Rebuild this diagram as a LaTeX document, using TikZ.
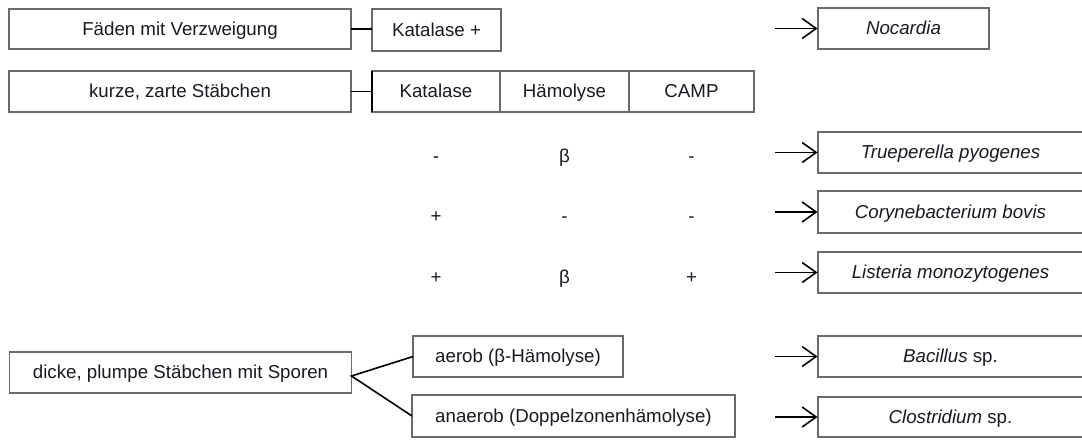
\documentclass[tikz,border=0pt]{standalone}
\usepackage{fontspec}
\setmainfont{Liberation Sans}
\usetikzlibrary{arrows.meta}
\definecolor{boxgray}{RGB}{105,105,105}
\definecolor{inkcol}{RGB}{25,25,35}
\begin{document}
\begin{tikzpicture}[x=1pt,y=-1pt,
  txt/.style={font=\fontsize{18.7}{22}\selectfont, text=inkcol, text height=12pt, text depth=0pt},
  box/.style={txt, draw=boxgray, line width=1.4pt, rectangle, inner sep=0pt, outer sep=0pt, fill=white},
  val/.style={txt, inner sep=0pt},
  link/.style={draw=black, line width=1.6pt},
  pointer/.style={link, -{Straight Barb[length=14pt,width=20pt,line join=miter]}, shorten >=0.5pt}]
\useasboundingbox (0,0) rectangle (1082,445);
\fill[white] (0,0) rectangle (1082,445);

% upper group: filaments
\node[box, minimum width=342pt, minimum height=40pt] (f) at (180,29) {Fäden mit Verzweigung};
\node[box, minimum width=129pt, minimum height=42pt] (kp) at (436.5,30) {Katalase +};
\node[box, minimum width=171pt, minimum height=41pt] (noc) at (903.5,28.5) {\itshape Nocardia};

% short rods with test table
\node[box, minimum width=342pt, minimum height=41pt] (k) at (180,91.5) {kurze, zarte Stäbchen};
\node[box, minimum width=128pt, minimum height=41pt] (tk) at (436,91.5) {Katalase};
\node[box, minimum width=129pt, minimum height=41pt] (th) at (564.5,91.5) {Hämolyse};
\node[box, minimum width=125pt, minimum height=41pt] (tc) at (691.5,91.5) {CAMP};

% test results
\node[val] (v11) at (436,156) {-};
\node[val] (v12) at (564.5,156) {β};
\node[val] (v13) at (691.5,156) {-};
\node[val] (v21) at (436,216) {+};
\node[val] (v22) at (564.5,216) {-};
\node[val] (v23) at (691.5,216) {-};
\node[val] (v31) at (436,277) {+};
\node[val] (v32) at (564.5,277) {β};
\node[val] (v33) at (691.5,277) {+};

% identified genera
\node[box, minimum width=265pt, minimum height=41pt] (tp) at (950.5,152.5) {\itshape Trueperella pyogenes};
\node[box, minimum width=265pt, minimum height=42pt] (cb) at (950.5,212) {\itshape Corynebacterium bovis};
\node[box, minimum width=265pt, minimum height=41pt] (lm) at (950.5,272.5) {\itshape Listeria monozytogenes};

% spore-forming rods
\node[box, minimum width=342pt, minimum height=41pt] (d) at (180.5,372.5) {dicke, plumpe Stäbchen mit Sporen};
\node[box, minimum width=210pt, minimum height=41pt] (ae) at (518,356.5) {aerob (β-Hämolyse)};
\node[box, minimum width=323pt, minimum height=42pt] (an) at (573.5,416) {anaerob (Doppelzonenhämolyse)};
\node[box, minimum width=265pt, minimum height=41pt] (ba) at (950.5,356.5) {\textit{Bacillus} sp.};
\node[box, minimum width=265pt, minimum height=40pt] (cl) at (950.5,417) {\textit{Clostridium} sp.};

% connectors
\draw[link] (f.east) -- (f.east -| kp.west);
\draw[link] (k.east) -- (tk.west);
\draw[link] (tk.north west) -- (tk.south west);
\coordinate (fork) at ([yshift=-3.5pt]d.east);
\draw[link] (ae.west) -- (fork) -- (an.west);

% arrows to results
\foreach \n in {noc,tp,cb,lm,ba,cl}
  \draw[pointer] ([xshift=-43pt]\n.west) -- (\n.west);
\end{tikzpicture}
\end{document}
